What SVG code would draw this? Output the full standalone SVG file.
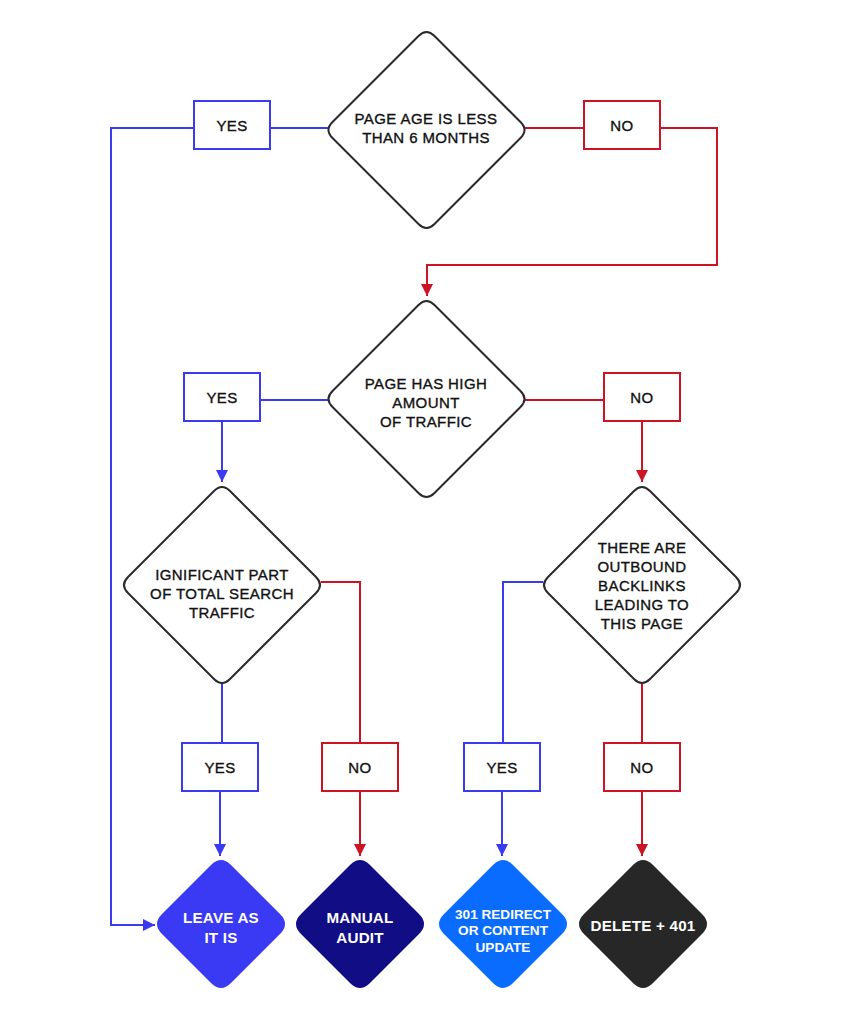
<svg xmlns="http://www.w3.org/2000/svg" width="853" height="1024" viewBox="0 0 853 1024">
<defs>
<marker id="ab" markerWidth="12" markerHeight="12" refX="10" refY="5" orient="auto" markerUnits="userSpaceOnUse" viewBox="0 0 10 10"><path d="M0,0 L10,5 L0,10 Z" fill="#3a3af2"/></marker>
<marker id="ar" markerWidth="12" markerHeight="12" refX="10" refY="5" orient="auto" markerUnits="userSpaceOnUse" viewBox="0 0 10 10"><path d="M0,0 L10,5 L0,10 Z" fill="#cc1425"/></marker>
<style>
.dec{fill:#fff;stroke:#2a2a2a;stroke-width:2}
.t{font-family:"Liberation Sans",Arial,sans-serif;font-size:15px;letter-spacing:0.4px;fill:#111;stroke:#111;stroke-width:0.35px;text-anchor:middle}
.w{font-family:"Liberation Sans",Arial,sans-serif;font-size:15.2px;font-weight:700;letter-spacing:0.2px;fill:#fff;text-anchor:middle}
.s{font-size:13.6px;letter-spacing:0}
.bb{fill:#fff;stroke:#3a3af2;stroke-width:2}
.rb{fill:#fff;stroke:#cc1425;stroke-width:2}
.bl{fill:none;stroke:#3a3af2;stroke-width:2}
.rl{fill:none;stroke:#cc1425;stroke-width:2}
</style>
</defs>
<rect width="853" height="1024" fill="#fff"/>
<g id="connectors">
<path class="bl" d="M328,128 H270 M194,128 H111 V925 H155" marker-end="url(#ab)"/>
<path class="rl" d="M525,128 H584 M660,128 H717 V265 H427 V296" marker-end="url(#ar)"/>
<path class="bl" d="M328,400 H260"/>
<path class="bl" d="M222,421 V482" marker-end="url(#ab)"/>
<path class="rl" d="M525,400 H604"/>
<path class="rl" d="M642,421 V482" marker-end="url(#ar)"/>
<path class="rl" d="M321,582 H360 V743"/>
<path class="rl" d="M360,791 V856" marker-end="url(#ar)"/>
<path class="bl" d="M222,683 V743"/>
<path class="bl" d="M220,791 V856" marker-end="url(#ab)"/>
<path class="bl" d="M543,582 H503 V743"/>
<path class="bl" d="M502,791 V856" marker-end="url(#ab)"/>
<path class="rl" d="M642,683 V743"/>
<path class="rl" d="M642,791 V856" marker-end="url(#ar)"/>
</g>
<g id="d1">
<path class="dec" d="M434.5,36 L520.5,122 Q528.5,130 520.5,138 L434.5,224 Q426.5,232 418.5,224 L332.5,138 Q324.5,130 332.5,122 L418.5,36 Q426.5,28 434.5,36 Z"/>
<text class="t" x="426" y="124">PAGE AGE IS LESS<tspan x="426" dy="18.5">THAN 6 MONTHS</tspan></text>
</g>
<g id="yes1"><rect class="bb" x="194" y="101" width="76" height="48"/><text class="t" x="232" y="131">YES</text></g>
<g id="no1"><rect class="rb" x="584" y="101" width="76" height="48"/><text class="t" x="622" y="131">NO</text></g>
<g id="d2">
<path class="dec" d="M434.5,305 L520.5,391 Q528.5,399 520.5,407 L434.5,493 Q426.5,501 418.5,493 L332.5,407 Q324.5,399 332.5,391 L418.5,305 Q426.5,297 434.5,305 Z"/>
<text class="t" x="426" y="389">PAGE HAS HIGH<tspan x="426" dy="19">AMOUNT</tspan><tspan x="426" dy="19">OF TRAFFIC</tspan></text>
</g>
<g id="yes2"><rect class="bb" x="184" y="373" width="76" height="48"/><text class="t" x="222" y="403">YES</text></g>
<g id="no2"><rect class="rb" x="604" y="373" width="76" height="48"/><text class="t" x="642" y="403">NO</text></g>
<g id="d3">
<path class="dec" d="M230,491 L316,577 Q324,585 316,593 L230,679 Q222,687 214,679 L128,593 Q120,585 128,577 L214,491 Q222,483 230,491 Z"/>
<text class="t" x="222" y="580">IGNIFICANT PART<tspan x="222" dy="19">OF TOTAL SEARCH</tspan><tspan x="222" dy="19">TRAFFIC</tspan></text>
</g>
<g id="d4">
<path class="dec" d="M650,491 L736,577 Q744,585 736,593 L650,679 Q642,687 634,679 L548,593 Q540,585 548,577 L634,491 Q642,483 650,491 Z"/>
<text class="t" x="642" y="553">THERE ARE<tspan x="642" dy="19">OUTBOUND</tspan><tspan x="642" dy="19">BACKLINKS</tspan><tspan x="642" dy="19">LEADING TO</tspan><tspan x="642" dy="18.5">THIS PAGE</tspan></text>
</g>
<g id="yes3"><rect class="bb" x="182" y="743" width="76" height="48"/><text class="t" x="220" y="773">YES</text></g>
<g id="no3"><rect class="rb" x="322" y="743" width="76" height="48"/><text class="t" x="360" y="773">NO</text></g>
<g id="yes4"><rect class="bb" x="464" y="743" width="76" height="48"/><text class="t" x="502" y="773">YES</text></g>
<g id="no4"><rect class="rb" x="604" y="743" width="76" height="48"/><text class="t" x="642" y="773">NO</text></g>
<g id="leave">
<path fill="#3a3af5" d="M231,865 L280,914 Q290,924 280,934 L231,983 Q221,993 211,983 L162,934 Q152,924 162,914 L211,865 Q221,855 231,865 Z"/>
<text class="w" x="221" y="923">LEAVE AS<tspan x="221" dy="19.5">IT IS</tspan></text>
</g>
<g id="manual">
<path fill="#110d85" d="M370,865 L419,914 Q429,924 419,934 L370,983 Q360,993 350,983 L301,934 Q291,924 301,914 L350,865 Q360,855 370,865 Z"/>
<text class="w" x="360" y="923">MANUAL<tspan x="360" dy="19.5">AUDIT</tspan></text>
</g>
<g id="redirect">
<path fill="#0a6cff" d="M513,865 L562,914 Q572,924 562,934 L513,983 Q503,993 493,983 L444,934 Q434,924 444,914 L493,865 Q503,855 513,865 Z"/>
<text class="w s" x="503" y="918.5">301 REDIRECT<tspan x="503" dy="16.5">OR CONTENT</tspan><tspan x="503" dy="16.5">UPDATE</tspan></text>
</g>
<g id="delete">
<path fill="#272727" d="M653,865 L702,914 Q712,924 702,934 L653,983 Q643,993 633,983 L584,934 Q574,924 584,914 L633,865 Q643,855 653,865 Z"/>
<text class="w" x="643" y="930.5">DELETE + 401</text>
</g>
</svg>
